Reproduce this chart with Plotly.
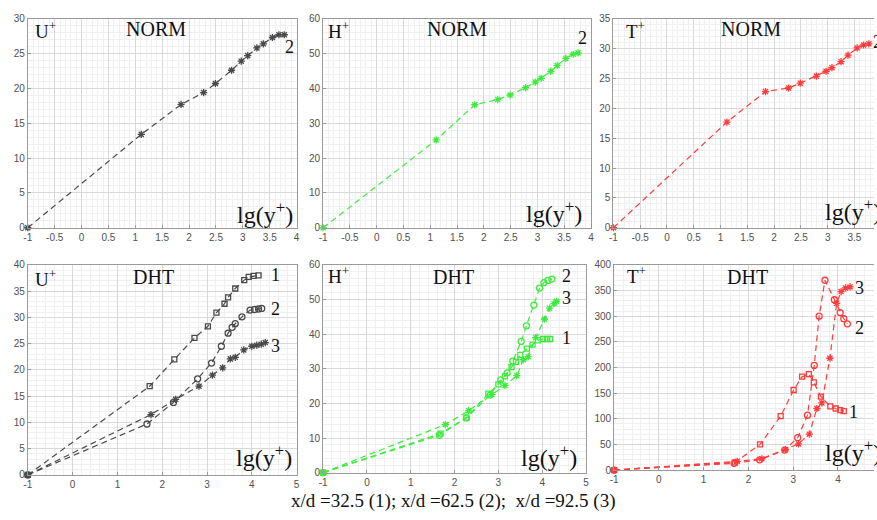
import plotly.graph_objects as go

# ---------------- data ----------------
u_norm_x = [-1, 1.11, 1.85, 2.27, 2.49, 2.79, 2.97, 3.09, 3.26, 3.38, 3.55, 3.67, 3.77]
u_norm_y = [0, 13.4, 17.7, 19.4, 20.7, 22.6, 23.9, 24.7, 25.8, 26.4, 27.3, 27.7, 27.7]

h_norm_x = [-1, 1.11, 1.83, 2.26, 2.49, 2.78, 2.96, 3.07, 3.25, 3.37, 3.53, 3.67, 3.76]
h_norm_y = [0, 25.2, 35.3, 36.8, 38.1, 40.2, 41.8, 42.9, 44.9, 46.6, 48.6, 49.8, 50.2]

t_norm_x = [-1, 1.12, 1.84, 2.27, 2.49, 2.79, 2.97, 3.08, 3.25, 3.38, 3.55, 3.67, 3.77]
t_norm_y = [0, 17.7, 22.8, 23.4, 24.2, 25.4, 26.2, 26.8, 27.8, 28.9, 30.1, 30.6, 30.8]

u1_x = [-1, 1.72, 2.27, 2.72, 3.02, 3.21, 3.39, 3.47, 3.63, 3.83, 3.93, 4.04, 4.15]
u1_y = [0, 16.9, 22.0, 26.1, 28.3, 30.9, 32.6, 33.8, 35.5, 37.1, 37.7, 37.9, 38.0]
u2_x = [-1, 1.66, 2.25, 2.79, 3.10, 3.32, 3.47, 3.56, 3.63, 3.78, 3.96, 4.06, 4.15, 4.22]
u2_y = [0, 9.7, 13.8, 18.3, 21.3, 24.5, 27.0, 28.1, 28.8, 30.1, 31.4, 31.5, 31.6, 31.7]
u3_x = [-1, 1.75, 2.30, 2.82, 3.12, 3.35, 3.52, 3.63, 3.82, 4.00, 4.11, 4.21, 4.30]
u3_y = [0, 11.5, 14.4, 16.9, 19.0, 20.4, 22.1, 22.4, 23.8, 24.5, 24.7, 24.9, 25.2]

h1_x = [-1, 1.68, 2.27, 2.77, 3.00, 3.15, 3.30, 3.40, 3.50, 3.65, 3.78, 3.90, 4.02, 4.11, 4.18]
h1_y = [0, 11.3, 15.9, 22.8, 25.5, 27.8, 30.5, 32.0, 34.0, 35.8, 37.0, 38.2, 38.6, 38.6, 38.6]
h2_x = [-1, 1.65, 2.27, 2.81, 3.05, 3.20, 3.33, 3.52, 3.64, 3.81, 3.94, 4.04, 4.13, 4.22]
h2_y = [0, 10.8, 15.8, 22.4, 26.8, 28.8, 32.2, 37.9, 42.4, 48.4, 53.3, 54.9, 55.5, 55.9]
h3_x = [-1, 1.79, 2.32, 2.85, 3.15, 3.42, 3.57, 3.68, 3.85, 4.05, 4.17, 4.27, 4.33]
h3_y = [0, 13.9, 17.9, 22.6, 25.2, 28.0, 32.6, 33.5, 39.0, 44.3, 47.5, 48.8, 49.5]

t1_x = [-1, 1.70, 2.26, 2.72, 3.01, 3.20, 3.35, 3.46, 3.62, 3.83, 3.95, 4.05, 4.13]
t1_y = [0, 15, 50, 105, 156, 182, 187, 171, 143, 124, 120, 117, 115]
t2_x = [-1, 1.68, 2.25, 2.81, 3.10, 3.32, 3.47, 3.58, 3.71, 3.92, 4.05, 4.13, 4.21]
t2_y = [0, 13, 20, 39, 63, 107, 204, 300, 370, 332, 307, 295, 285]
t3_x = [-1, 1.75, 2.30, 2.83, 3.12, 3.36, 3.53, 3.64, 3.82, 3.97, 4.07, 4.17, 4.27]
t3_y = [0, 17, 22, 40, 51, 70, 120, 131, 218, 325, 348, 355, 357]

quantities = ["U<sup>+</sup>", "H<sup>+</sup>", "T<sup>+</sup>"]
modes = ["NORM", "DHT"]
x_label = "lg(y<sup>+</sup>)"
caption = "x/d =32.5 (1); x/d =62.5 (2);  x/d =92.5 (3)"

# ---------------- layout helpers ----------------
W, H = 877, 520
GRAY = "#4a4a4a"
GREEN = "#3cec3c"
RED = "#ff3b3b"
SERIF = "Liberation Serif, Times New Roman, serif"
SANS = "Liberation Sans, Arial, sans-serif"

panels = [
    dict(x0=24, x1=295, y0=13, y1=227, xr=[-1, 4], yr=[0, 30], xd=0.5, xm=0.1, yd=5, ym=1, right=True),
    dict(x0=321.7, x1=591.7, y0=13, y1=227, xr=[-1, 4], yr=[0, 60], xd=0.5, xm=0.1, yd=10, ym=2, right=True),
    dict(x0=614.3, x1=877, y0=13, y1=227, xr=[-1, 3.865], yr=[0, 35], xd=0.5, xm=0.1, yd=5, ym=1, right=False),
    dict(x0=24, x1=295, y0=265, y1=480, xr=[-1, 5], yr=[0, 40], xd=1, xm=0.2, yd=5, ym=1, right=True),
    dict(x0=321.7, x1=586.7, y0=265, y1=477.7, xr=[-1, 5], yr=[0, 60], xd=1, xm=0.2, yd=10, ym=2, right=True),
    dict(x0=615, x1=877, y0=265, y1=475, xr=[-1, 4.805], yr=[0, 400], xd=1, xm=0.2, yd=50, ym=10, right=False),
]


def fmt(v):
    return "%g" % v  # plain hyphen-minus like the reference


fig = go.Figure()
layout = dict(
    width=W, height=H, margin=dict(l=0, r=0, t=0, b=0),
    paper_bgcolor="white", plot_bgcolor="white", showlegend=False,
)

for i, p in enumerate(panels):
    n = "" if i == 0 else str(i + 1)
    xt = []
    v = p["xr"][0]
    while v <= p["xr"][1] + 1e-9:
        xt.append(round(v, 3))
        v += p["xd"]
    yt = []
    v = p["yr"][0]
    while v <= p["yr"][1] + 1e-9:
        yt.append(round(v, 3))
        v += p["yd"]
    common = dict(
        showline=True, linecolor="#9a9a9a", linewidth=1,
        showgrid=True, gridcolor="#d9d9d9", gridwidth=1,
        zeroline=False, ticks="inside", ticklen=3, tickcolor="#9a9a9a",
        tickfont=dict(family=SANS, size=10, color="#505050"),
    )
    layout["xaxis" + n] = dict(
        common, domain=[p["x0"] / W, p["x1"] / W], range=p["xr"], anchor="y" + n,
        tickvals=xt, ticktext=[fmt(t) for t in xt], mirror=True,
        minor=dict(dtick=p["xm"], showgrid=True, gridcolor="#f0f0f0", ticks=""),
    )
    layout["yaxis" + n] = dict(
        common, domain=[1 - p["y1"] / H, 1 - p["y0"] / H], range=p["yr"], anchor="x" + n,
        tickvals=yt, ticktext=[fmt(t) for t in yt], mirror=p["right"],
        minor=dict(dtick=p["ym"], showgrid=True, gridcolor="#f0f0f0", ticks=""),
    )

fig.update_layout(**layout)

DASH = "6px,4px"


def add(ax, xs, ys, color, symbol, size=5, lw=1.2):
    n = "" if ax == 1 else str(ax)
    open_sym = symbol.endswith("open")
    fig.add_trace(go.Scatter(
        x=xs, y=ys, mode="lines+markers", xaxis="x" + n, yaxis="y" + n,
        line=dict(color=color, width=lw, dash=DASH),
        marker=dict(symbol=symbol, size=size, color=color,
                    line=dict(color=color, width=1.3 if open_sym else 0)),
        cliponaxis=False,
    ))


add(1, u_norm_x, u_norm_y, GRAY, "asterisk-open", 6)
add(2, h_norm_x, h_norm_y, GREEN, "asterisk-open", 6)
add(3, t_norm_x, t_norm_y, RED, "asterisk-open", 6)

add(4, u1_x, u1_y, GRAY, "square-open", 5)
add(4, u2_x, u2_y, GRAY, "circle-open", 6)
add(4, u3_x, u3_y, GRAY, "asterisk-open", 6)

add(5, h1_x, h1_y, GREEN, "square-open", 5)
add(5, h2_x, h2_y, GREEN, "circle-open", 6)
add(5, h3_x, h3_y, GREEN, "asterisk-open", 6)

add(6, t1_x, t1_y, RED, "square-open", 5)
add(6, t2_x, t2_y, RED, "circle-open", 6)
add(6, t3_x, t3_y, RED, "asterisk-open", 6)

anns = []


def pa(px, py, text, size, xa="left", ya="middle"):
    anns.append(dict(x=px / W, y=1 - py / H, xref="paper", yref="paper", text=text,
                     showarrow=False, xanchor=xa, yanchor=ya,
                     font=dict(family=SERIF, size=size, color="#111")))


def da(ax, x, y, text, size=18):
    n = "" if ax == 1 else str(ax)
    anns.append(dict(x=x, y=y, xref="x" + n, yref="y" + n, text=text, showarrow=False,
                     xanchor="center", yanchor="middle",
                     font=dict(family=SERIF, size=size, color="#111")))


# panel titles and quantity labels
pa(29, 25, quantities[0], 19)
pa(153.5, 24, modes[0], 20, "center")
pa(293, 212, x_label, 24, "right")

pa(325, 25, quantities[1], 19)
pa(456.7, 24, modes[0], 20, "center")
pa(585, 211, x_label, 24, "right")

pa(625, 25, quantities[2], 19)
pa(753, 24, modes[0], 20, "center")
pa(826, 209, x_label, 24, "left")

pa(29, 278, quantities[0], 19)
pa(151, 277, modes[1], 20, "center")
pa(292, 461, x_label, 24, "right")

pa(325, 275, quantities[1], 19)
pa(453, 277, modes[1], 20, "center")
pa(580, 461, x_label, 24, "right")

pa(626, 275, quantities[2], 19)
pa(749, 277, modes[1], 20, "center")
pa(826, 455, x_label, 24, "left")

# curve labels
da(1, 3.86, 25.9, "2")
da(2, 3.84, 54.4, "2")
pa(874, 37, "2", 18, "left")
da(4, 4.53, 38.0, "1")
da(4, 4.53, 31.6, "2")
da(4, 4.53, 24.6, "3")
da(5, 4.55, 56.7, "2")
da(5, 4.55, 50.3, "3")
da(5, 4.55, 38.8, "1")
da(6, 4.35, 113, "1")
da(6, 4.47, 276, "2")
da(6, 4.47, 354, "3")

pa(453, 507, caption, 19, "center")

fig.update_layout(annotations=anns)

fig.write_html("out.html", config={"displayModeBar": False},
               post_script="document.body.style.margin='0';document.body.style.overflow='hidden';")
